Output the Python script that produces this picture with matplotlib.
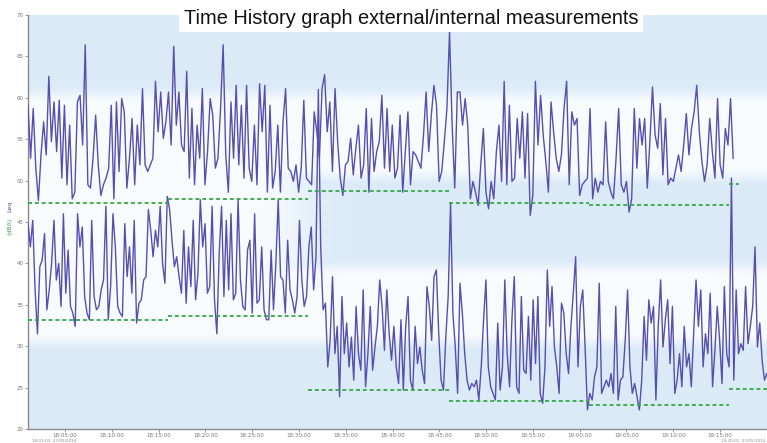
import numpy as np
import matplotlib
matplotlib.use("Agg")
import matplotlib.pyplot as plt
from matplotlib.ticker import FixedLocator, FuncFormatter

# ---------------- data ----------------
title = "Time History graph external/internal measurements"

# external (upper) Leq trace, dB, evenly sampled between its start/end time
upper_start, upper_end = "18:01:03", "19:16:24"
upper_values = [
    59.1, 52.7, 58.7, 51.5, 47.6, 53.1, 57.1, 53.1, 62.6, 54.7, 59.5, 53.5, 59.7, 50.3, 59.1, 49.5,
    56.7, 47.8, 48.6, 59.5, 60.3, 54.3, 66.4, 49.5, 49.1, 52.7, 57.9, 51.9, 48.2, 49.5, 50.3, 51.5,
    59.1, 47.8, 59.5, 51.1, 59.9, 58.3, 49.1, 52.7, 57.5, 49.5, 56.7, 51.9, 61.1, 51.9, 51.1, 51.9,
    52.7, 62.0, 55.9, 60.7, 55.1, 57.1, 60.7, 54.3, 66.2, 56.7, 60.7, 54.3, 53.5, 63.2, 50.3, 58.7,
    49.5, 56.7, 52.7, 61.1, 49.5, 53.5, 59.9, 57.9, 51.5, 52.7, 58.7, 66.4, 53.1, 48.6, 59.5, 52.7,
    61.5, 51.9, 59.1, 50.3, 61.5, 51.5, 49.9, 56.7, 49.5, 61.7, 55.9, 61.5, 48.6, 59.1,
    49.1, 51.1, 56.7, 48.6, 57.1, 61.1, 51.5, 51.1, 49.9, 51.9, 48.6, 51.5, 59.7, 50.3, 49.9, 49.5,
    58.3, 55.9, 52.7, 61.1, 62.8, 55.9, 59.5, 51.1, 61.1, 54.7, 50.3, 48.2, 51.9, 52.3, 55.1, 50.7,
    53.9, 56.7, 50.3, 51.9, 58.7, 48.6, 57.5, 51.1, 53.5, 54.7, 60.3, 51.5, 58.7, 51.1, 56.7, 50.3,
    51.5, 57.9, 48.6, 53.5, 58.3, 49.5, 53.5, 53.1, 52.3, 51.5, 55.5, 60.7, 53.5, 57.9, 61.5, 59.1,
    49.9, 51.1, 54.7, 58.7, 68.0, 56.7, 49.1, 60.7, 60.7, 56.7, 59.9, 56.7, 47.8, 49.9, 48.6, 47.0,
    51.9, 56.3, 48.6, 46.6, 49.9, 47.8, 53.5, 56.7, 49.9, 62.0,
    49.5, 59.1, 49.9, 50.3, 57.5, 52.7, 58.3, 50.3, 58.1, 45.8, 48.2, 62.0, 54.3, 60.3, 55.5, 52.3,
    48.6, 59.5, 55.9, 52.7, 51.1, 53.1, 58.7, 62.0, 49.5, 58.3, 56.7, 57.5, 48.2, 49.5, 49.9, 50.3,
    58.7, 47.8, 50.3, 48.6, 49.9, 49.5, 57.1, 49.9, 48.6, 47.8, 52.7, 58.7, 49.5, 48.6, 49.9, 46.2,
    47.8, 58.7, 51.5, 57.5, 54.3, 57.5, 49.1, 54.7, 61.3, 55.5, 53.9, 59.3, 50.7, 57.5, 49.5, 50.3,
    49.9, 51.5, 53.1, 51.1, 54.3, 58.1, 53.1, 56.3, 58.3, 61.5, 55.9, 52.3, 49.9, 51.9, 57.5, 53.5,
    50.3, 59.9, 51.9, 50.3, 56.3, 54.3, 59.9, 52.7,
]

# internal (lower) Leq trace, dB
lower_start, lower_end = "18:01:03", "19:20:00"
lower_values = [
    44.8, 42.0, 45.2, 36.8, 31.5, 39.6, 40.4, 43.6, 34.4, 36.8, 40.0, 45.2, 38.0, 40.0, 34.8, 46.0,
    36.4, 41.6, 34.8, 34.0, 32.4, 46.0, 42.0, 44.4, 36.0, 34.0, 33.2, 45.2, 36.0, 34.4, 34.8, 36.8,
    38.0, 46.9, 33.2, 37.2, 46.0, 42.0, 34.8, 34.0, 33.6, 44.8, 38.4, 42.0, 36.4, 45.2, 32.8, 35.2,
    35.6, 38.0, 38.4, 46.5, 44.0, 40.8, 44.0, 42.0, 46.9, 40.0, 37.6, 48.1, 46.5, 42.8, 39.6, 40.8,
    38.4, 36.4, 44.0, 35.2, 42.0, 37.2, 45.2, 35.6, 38.8, 47.7, 42.0, 44.8, 36.4, 37.2, 46.9, 35.6,
    31.5, 41.2, 46.9, 36.0, 45.2, 36.8, 46.0, 35.6, 36.4, 47.7, 38.0, 34.8, 34.4, 41.6, 42.8, 34.0,
    46.0, 35.2, 35.6, 42.0, 34.4, 33.2,
    33.2, 41.6, 34.4, 40.0, 47.7, 38.4, 38.0, 34.0, 42.8, 36.8, 35.6, 34.0, 36.0, 45.2, 38.0, 34.8,
    36.0, 42.0, 44.4, 36.8, 40.8, 61.0, 42.0, 34.4, 35.2, 27.5, 30.7, 38.4, 29.1, 32.4, 23.9, 36.0,
    29.1, 32.8, 27.5, 31.1, 25.9, 34.8, 29.1, 27.1, 36.8, 25.1, 29.1, 34.8, 27.1, 29.9, 32.4, 38.0,
    34.8, 29.5, 36.8, 31.5, 28.3, 32.4, 27.5, 25.5, 33.2, 24.7, 32.4, 36.0, 25.9, 24.7, 32.4, 27.9,
    29.9, 27.1, 25.5, 37.2, 34.8, 30.7, 38.4, 39.2, 31.5, 25.9, 24.7, 31.1, 36.0, 47.3, 34.0, 29.9,
    24.3, 37.6, 34.0, 29.1, 25.9, 24.7, 25.5, 25.1, 25.9, 23.5, 27.5, 33.2, 38.0, 27.5, 25.1, 24.3,
    23.5, 32.8, 24.7, 27.5, 38.0, 29.1,
    25.1, 33.2, 38.4, 25.1, 24.3, 36.0, 27.1, 26.7, 33.6, 25.9, 35.6, 27.9, 36.0, 24.3, 23.1, 27.5,
    39.2, 32.4, 37.2, 29.9, 27.5, 24.3, 35.2, 34.0, 29.1, 26.7, 32.4, 36.4, 40.8, 27.5, 34.8, 36.8,
    29.9, 22.3, 24.3, 23.5, 26.3, 27.5, 37.6, 24.3, 25.1, 25.9, 25.1, 26.7, 24.3, 34.8, 23.5, 25.9,
    26.3, 30.7, 36.8, 27.5, 24.3, 25.5, 23.9, 22.3, 25.9, 33.6, 28.3, 35.6, 32.8, 34.8, 23.5, 32.4,
    38.0, 29.9, 33.2, 35.6, 27.9, 34.8, 24.3, 25.9, 29.1, 25.1, 32.4, 27.5, 29.1, 25.1, 31.5, 38.0,
    32.4, 36.8, 27.5, 31.5, 29.1, 36.4, 25.1, 29.5, 34.8, 30.7, 25.5, 37.2, 29.1, 27.5, 50.3, 25.9,
    36.8, 29.1, 30.3, 29.5, 37.2, 30.3, 32.4, 34.8, 42.0, 29.9, 32.8, 28.3, 25.9, 26.7,
]

# 15-minute minimum / background levels (green dashed)
period_bounds = ["18:01:03", "18:16:00", "18:31:00", "18:46:00", "19:01:00", "19:16:00", "19:20:00"]
upper_min = [47.3, 47.8, 48.7, 47.3, 47.1, 49.6]
lower_min = [33.2, 33.6, 24.7, 23.4, 22.9, 24.8]
upper_last_end = "19:17:00"

x_tick_labels = ["18:05:00", "18:10:00", "18:15:00", "18:20:00", "18:25:00", "18:30:00",
                 "18:35:00", "18:40:00", "18:45:00", "18:50:00", "18:55:00", "19:00:00",
                 "19:05:00", "19:10:00", "19:15:00"]
y_ticks = [20, 25, 30, 35, 40, 45, 50, 55, 60, 65, 70]
x_min, x_max = "18:01:03", "19:20:01"


def sec(s):
    h, m, x = map(int, s.split(":"))
    return h * 3600 + m * 60 + x


def fmt(v, pos=None):
    v = int(round(v))
    return "%02d:%02d:%02d" % (v // 3600, (v % 3600) // 60, v % 60)


# ---------------- figure ----------------
W, H = 767, 443
fig = plt.figure(figsize=(W / 100, H / 100), dpi=100)
ax = fig.add_axes([28 / W, 1 - 429 / H, 1 - 28 / W, (429 - 15) / H])

x0, x1 = sec(x_min), sec(x_max)
ax.set_xlim(x0, x1)
ax.set_ylim(20, 70)

# soft background bands
vv = np.linspace(20, 70, 300)[:, None]
tt = np.linspace(x0, x1, 400)[None, :]


def band(v, lo, hi, soft=1.8):
    return np.clip(np.minimum((v - lo) / soft, (hi - v) / soft) + 0.5, 0, 1)


w = np.maximum(band(vv, 50.5, 60.5), band(vv, 30.5, 39.5))
left = 1 / (1 + np.exp((tt - sec("18:30:00")) / 90))
w = np.maximum(w, band(vv, 30.5, 60.5) * left)
blue = np.array([0.86, 0.92, 0.972])
white = np.array([0.975, 0.988, 0.997])
img = blue[None, None, :] * (1 - w[..., None]) + white[None, None, :] * w[..., None]
ax.imshow(img, extent=[x0, x1, 20, 70], origin="lower", aspect="auto", zorder=0,
          interpolation="bilinear")

line_col = "#564fae"
tu = np.linspace(sec(upper_start), sec(upper_end), len(upper_values))
tl = np.linspace(sec(lower_start), sec(lower_end), len(lower_values))
ax.plot(tl, lower_values, color=line_col, lw=1.0, zorder=3)
ax.plot(tu, upper_values, color=line_col, lw=1.0, zorder=3)

green = "#35a845"
bounds = [sec(b) for b in period_bounds]
for i, (um, lm) in enumerate(zip(upper_min, lower_min)):
    a, b = bounds[i], bounds[i + 1]
    bu = sec(upper_last_end) if i == len(upper_min) - 1 else b
    ax.plot([a, bu], [um, um], color=green, lw=1.3, ls=(0, (2.2, 1.6)), zorder=4)
    ax.plot([a, b], [lm, lm], color=green, lw=1.3, ls=(0, (2.2, 1.6)), zorder=4)

# axes styling
for s in ["top", "right"]:
    ax.spines[s].set_visible(False)
for s in ["left", "bottom"]:
    ax.spines[s].set_color("#8a8a8a")
    ax.spines[s].set_linewidth(1.0)
ax.xaxis.set_major_locator(FixedLocator([sec(t) for t in x_tick_labels]))
ax.xaxis.set_major_formatter(FuncFormatter(fmt))
ax.yaxis.set_major_locator(FixedLocator(y_ticks))
ax.tick_params(axis="both", labelsize=4.0, colors="#8a8a8a", labelcolor="#777777",
               length=2.0, width=0.6, pad=1.0)

# y-axis label in two colours
fig.text(0.013, 0.490, "(dBA)", rotation=90, color="#3aa848", fontsize=4.5,
         ha="center", va="center")
fig.text(0.013, 0.535, "Leq", rotation=90, color="#4a4ab0", fontsize=4.5,
         ha="center", va="center")

# small date stamps under the axis
fig.text(32 / W, -0.001, "18:01:03  27/05/2014", fontsize=3.0, color="#888888",
         ha="left", va="bottom")
fig.text(1 - 2 / W, -0.001, "19:20:01  27/05/2014", fontsize=3.0, color="#888888",
         ha="right", va="bottom")

fig.text(0.536, 1 - 18 / H, title, ha="center", va="center", fontsize=14.4,
         family="Liberation Sans", color="#111111",
         bbox=dict(facecolor="white", edgecolor="none", pad=3.5))

fig.savefig("out.png", dpi=100)
